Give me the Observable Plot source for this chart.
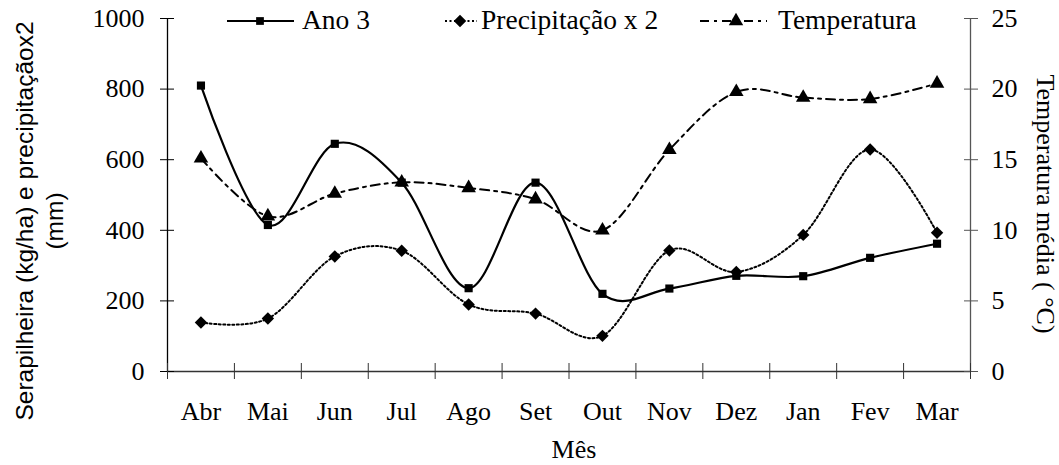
<!DOCTYPE html>
<html><head><meta charset="utf-8">
<script src="https://cdn.jsdelivr.net/npm/d3@7"></script>
<script src="https://cdn.jsdelivr.net/npm/@observablehq/plot@0.6"></script>
<style>body{margin:0;background:#fff} #chart{width:1059px;height:465px}</style>
</head><body><div id="chart"></div>
<script>
const months = ["Abr","Mai","Jun","Jul","Ago","Set","Out","Nov","Dez","Jan","Fev","Mar"];
const ano3 = [810,415,645,535,236,535,220,235,271,270,322,362];
const precip2 = [139,150,326,342,190,164,101,343,282,387,629,393];
const temperatura = [15.1,11.0,12.6,13.4,13.0,12.2,10.0,15.7,19.8,19.4,19.3,20.4];
const leftTicks = [0,200,400,600,800,1000];
const rightTicks = [0,5,10,15,20,25];
const seriesNames = ["Ano 3","Precipitação x 2","Temperatura"];
const yLabel = ["Serapilheira (kg/ha) e precipitaçãox2","(mm)"];
const y2Label = "Temperatura média ( °C)";
const xLabel = "Mês";

const serif = "'Liberation Serif','Times New Roman',serif";
const sans = "'Liberation Sans',Arial,sans-serif";
const idx = months.map((_, i) => i);
const cx = i => i + 0.5;
const tScale = 1000 / 25;

const chart = Plot.plot({
  width: 1059, height: 465,
  marginLeft: 167, marginRight: 89, marginTop: 18, marginBottom: 94,
  style: {fontFamily: serif, fontSize: "26px", color: "#000", background: "#fff", overflow: "visible"},
  x: {type: "linear", domain: [0, 12], axis: null},
  y: {domain: [0, 1000], axis: null},
  marks: [
    Plot.ruleY([0], {stroke: "#333", strokeWidth: 1.3}),
    Plot.ruleX([0], {stroke: "#000", strokeWidth: 1.3}),
    Plot.ruleX([12], {stroke: "#555", strokeWidth: 1.3}),
    // left axis
    Plot.axisY({ticks: leftTicks, anchor: "left", tickSize: 14, dx: 7, fill: "none", stroke: "#000", label: null}),
    Plot.axisY({ticks: leftTicks, anchor: "left", tickSize: 7, tickPadding: 16, tickFormat: d => String(d), stroke: "none", fill: "#000", label: null}),
    // right axis
    Plot.axisY({ticks: rightTicks.map(t => t * tScale), anchor: "right", tickSize: 14, dx: -7, fill: "none", stroke: "#555", label: null}),
    Plot.axisY({ticks: rightTicks.map(t => t * tScale), anchor: "right", tickSize: 7, tickPadding: 14, tickFormat: d => String(d / tScale), stroke: "none", fill: "#000", label: null}),
    // x axis
    Plot.axisX({ticks: d3.range(13), tickSize: 16, dy: -8, fill: "none", stroke: "#333", label: null}),
    Plot.axisX({ticks: idx.map(cx), tickSize: 0, tickPadding: 30, tickFormat: d => months[Math.floor(d)], stroke: "none", fill: "#000", label: null}),
    // series
    Plot.line(idx, {x: cx, y: i => precip2[i], curve: "cardinal", stroke: "#000", strokeWidth: 2, strokeDasharray: "2,2.5"}),
    Plot.line(idx, {x: cx, y: i => temperatura[i] * tScale, curve: "cardinal", stroke: "#000", strokeWidth: 2, strokeDasharray: "9,5,3,5"}),
    Plot.line(idx, {x: cx, y: i => ano3[i], curve: "cardinal", stroke: "#000", strokeWidth: 2.2}),
    Plot.dot(idx, {x: cx, y: i => precip2[i], symbol: "diamond2", r: 5.6, fill: "#000", stroke: "none"}),
    Plot.dot(idx, {x: cx, y: i => temperatura[i] * tScale, symbol: "triangle", r: 5.4, fill: "#000", stroke: "none"}),
    Plot.dot(idx, {x: cx, y: i => ano3[i], symbol: "square", r: 4.6, fill: "#000", stroke: "none"})
  ]
});
document.getElementById("chart").appendChild(chart);

// legend and axis titles
const svg = d3.select(chart);
const g = svg.append("g").attr("font-family", serif).attr("font-size", 26).attr("fill", "#000").attr("text-anchor", "start");
const legend = [
  {x1: 227, x2: 294, sx: 260, tx: 302, dash: null, sym: d3.symbolSquare, size: 60},
  {x1: 445, x2: 477, sx: 460, tx: 481, dash: "2,2.5", sym: d3.symbolDiamond2, size: 100},
  {x1: 700, x2: 767, sx: 736, tx: 778, dash: "9,5,3,5", sym: d3.symbolTriangle, size: 90}
];
legend.forEach((L, k) => {
  g.append("line").attr("x1", L.x1).attr("x2", L.x2).attr("y1", 21).attr("y2", 21)
    .attr("stroke", "#000").attr("stroke-width", 2).attr("stroke-dasharray", L.dash);
  g.append("path").attr("d", d3.symbol(L.sym, L.size)()).attr("transform", `translate(${L.sx},21)`);
  g.append("text").attr("text-anchor", "start").attr("font-size", 27.5).attr("x", L.tx).attr("y", 29).text(seriesNames[k]);
});
const yl = g.append("text").attr("font-family", sans).attr("font-size", 24.5)
  .attr("text-anchor", "middle").attr("transform", "translate(33,221) rotate(-90)");
yl.append("tspan").attr("x", 0).attr("y", 0).text(yLabel[0]);
yl.append("tspan").attr("x", 0).attr("y", 30).text(yLabel[1]);
g.append("text").attr("text-anchor", "middle").attr("transform", "translate(1037,204) rotate(90)").text(y2Label);
g.append("text").attr("text-anchor", "middle").attr("x", 574).attr("y", 458).text(xLabel);
</script>
</body></html>
